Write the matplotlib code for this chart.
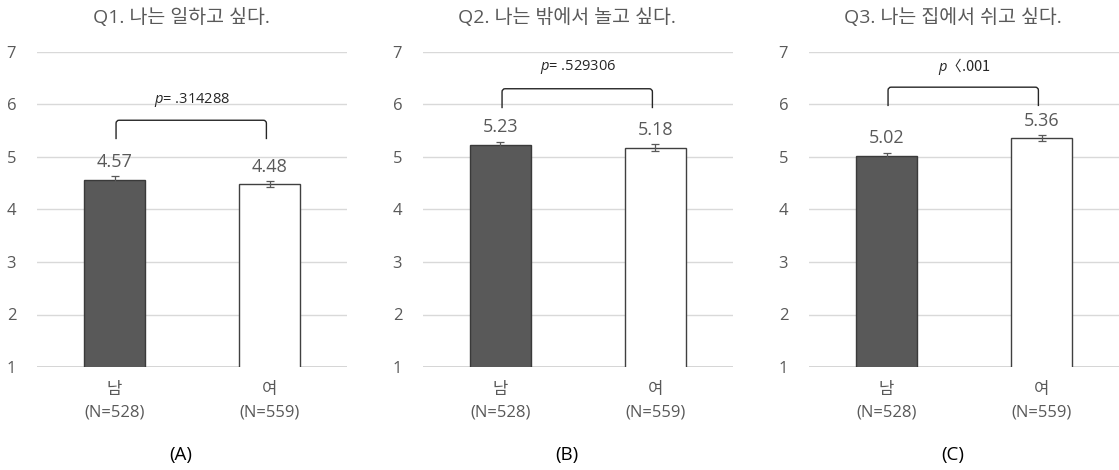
import numpy as np
import matplotlib
matplotlib.use('Agg')
import matplotlib.pyplot as plt
from matplotlib.path import Path
from matplotlib.patches import PathPatch

plt.rcParams['font.family'] = ['Open Sans', 'Noto Sans CJK KR', 'DejaVu Sans']
plt.rcParams['mathtext.fontset'] = 'custom'
plt.rcParams['mathtext.it'] = 'Open Sans:italic'

# 데이터
titles = ['Q1. 나는 일하고 싶다.', 'Q2. 나는 밖에서 놀고 싶다.', 'Q3. 나는 집에서 쉬고 싶다.']
groups = ['남\n(N=528)', '여\n(N=559)']
means_q1 = [4.57, 4.48]
means_q2 = [5.23, 5.18]
means_q3 = [5.02, 5.36]
errs_q1 = [0.06, 0.06]
errs_q2 = [0.06, 0.06]
errs_q3 = [0.06, 0.06]
p_texts = ['= .314288', '= .529306', '〈.001']
panel_labels = ['(A)', '(B)', '(C)']

# 괄호 위치 (bottom, top, text)
brackets = [(5.34, 5.70, 6.09), (5.93, 6.30, 6.72), (5.97, 6.33, 6.73)]

means = [means_q1, means_q2, means_q3]
errs = [errs_q1, errs_q2, errs_q3]

gray = '#595959'
fig = plt.figure(figsize=(11.19, 4.70), dpi=100)
lefts = [37, 423, 809]
for k in range(3):
    ax = fig.add_axes([lefts[k] / 1119, 1 - 367 / 470, 310 / 1119, 315 / 470])
    x = np.arange(2)
    ax.bar(x, means[k], width=0.39, bottom=0, color=['#595959', 'white'],
           edgecolor=['#3a3a3a', '#404040'], linewidth=1, zorder=3)
    ax.errorbar(x, means[k], yerr=errs[k], fmt='none', ecolor=gray,
                elinewidth=0.9, capsize=3, capthick=0.9, zorder=4)
    for i in range(2):
        ax.text(x[i], means[k][i] + 0.335, '%.2f' % means[k][i], ha='center',
                va='center', fontsize=13, color=gray)
    ax.set_xlim(-0.5, 1.5)
    ax.set_ylim(1, 7)
    ax.set_yticks(range(1, 8))
    ax.yaxis.grid(True, color='#d9d9d9', linewidth=1, zorder=0)
    ax.set_axisbelow(True)
    for s in ['top', 'right', 'left', 'bottom']:
        ax.spines[s].set_visible(False)
    ax.axhline(1, color='#d0d0d0', linewidth=1.2, zorder=1)
    ax.set_xticks(x)
    ax.set_xticklabels(groups, fontsize=12, color=gray, linespacing=1.55)
    ax.tick_params(axis='both', length=0, labelsize=12, labelcolor=gray)
    ax.tick_params(axis='x', pad=11)
    ax.tick_params(axis='y', pad=15)

    # p 괄호
    b0, b1, bt = brackets[k]
    xl, xr = 0.01, 0.98
    r = 0.02
    rv = 0.06
    verts = [(xl, b0), (xl, b1 - rv), (xl, b1), (xl + r, b1), (xr - r, b1),
             (xr, b1), (xr, b1 - rv), (xr, b0)]
    codes = [Path.MOVETO, Path.LINETO, Path.CURVE3, Path.CURVE3, Path.LINETO,
             Path.CURVE3, Path.CURVE3, Path.LINETO]
    ax.add_patch(PathPatch(Path(verts, codes), facecolor='none',
                           edgecolor='#262626', linewidth=1, zorder=5))
    if k < 2:
        fam = ['Open Sans', 'Noto Sans CJK KR']
    else:
        fam = ['Noto Sans CJK KR', 'Open Sans']
    ax.text(0.5, bt, r'$p$' + p_texts[k], ha='center', va='center',
            fontsize=10.5, color='#262626', family=fam)

    ax.text(0.465, 1.111, titles[k], transform=ax.transAxes, ha='center',
            va='center', fontsize=14, color=gray)
    ax.text(0.465, -0.279, panel_labels[k], transform=ax.transAxes, ha='center',
            va='center', fontsize=13.5, color='black')

fig.savefig('out.png', dpi=100)
